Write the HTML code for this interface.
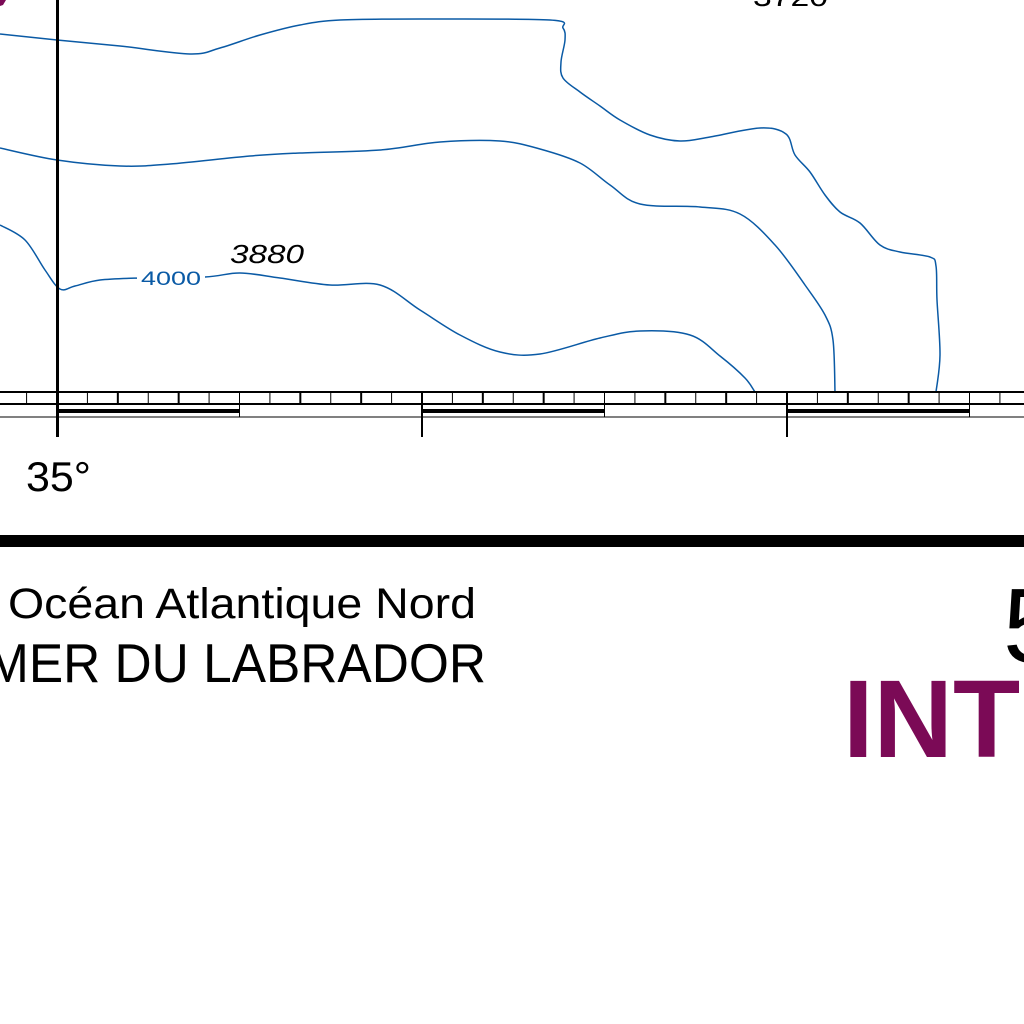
<!DOCTYPE html>
<html><head><meta charset="utf-8"><style>
html,body{margin:0;padding:0;background:#fff;width:1024px;height:1024px;overflow:hidden}
svg{display:block}
</style></head><body>
<svg id="chart" width="1024" height="1024" viewBox="0 0 1024 1024" xmlns="http://www.w3.org/2000/svg" font-family="'Liberation Sans', sans-serif">
<rect width="1024" height="1024" fill="#fff"/>
<path d="M0 0 L6 0 L3 5 L0 6 Z" fill="#7b0a56"/>
<g id="contours"></g>
<rect x="137" y="268" width="68" height="20" fill="#fff"/>
<text x="141" y="285" font-size="19" fill="#0a5aa5" textLength="60" lengthAdjust="spacingAndGlyphs">4000</text>
<text x="230" y="263" font-size="26" font-style="italic" fill="#000" textLength="74" lengthAdjust="spacingAndGlyphs">3880</text>
<text x="753" y="6" font-size="27" fill="#000" textLength="75" lengthAdjust="spacingAndGlyphs">3720</text>
<line x1="57.5" y1="0" x2="57.5" y2="437" stroke="#000" stroke-width="3"/>
<g id="scale"></g>
<text x="26" y="491" font-size="42" fill="#000" textLength="65" lengthAdjust="spacingAndGlyphs">35°</text>
<rect x="0" y="535" width="1024" height="12" fill="#000"/>
<text x="8" y="618" font-size="43" fill="#000" textLength="468" lengthAdjust="spacingAndGlyphs">Océan Atlantique Nord</text>
<text x="-14" y="682" font-size="55" fill="#000" textLength="500" lengthAdjust="spacingAndGlyphs">MER DU LABRADOR</text>
<text x="1003" y="662" font-size="106" fill="#000">5</text>
<text x="843" y="757" font-size="110" font-weight="bold" fill="#7b0a56">INT</text>
</svg>
<script>
const contour1 = [[0,34],[57,40],[120,46],[190,54],[220,48],[260,35],[300,25],[340,20],[420,19],[550,20],[563,28],[565,40],[561,62],[563,78],[580,92],[600,106],[620,120],[650,135],[680,141],[710,137],[760,128],[786,134],[795,155],[810,172],[825,195],[840,212],[860,223],[880,245],[900,252],[930,257],[936,266],[937,300],[940,355],[936,392]];
const contour2 = [[0,148],[57,160],[120,166],[170,164],[250,156],[300,153],[380,150],[440,142],[500,141],[540,149],[580,163],[610,185],[640,204],[700,207],[740,214],[775,245],[805,285],[825,315],[833,340],[835,392]];
const contour3 = [[0,225],[25,240],[45,270],[60,289],[75,286],[100,280],[140,278],[205,277],[240,273],[280,278],[330,285],[380,285],[420,310],[460,335],[500,352],[540,354],[600,338],[640,331],[690,335],[720,356],[745,378],[755,392]];
const meridians = [57, 422, 787];
const NS='http://www.w3.org/2000/svg';
function smooth(p){
  let d='M'+p[0][0]+' '+p[0][1];
  for(let i=0;i<p.length-1;i++){
    const p0=p[i-1]||p[i],p1=p[i],p2=p[i+1],p3=p[i+2]||p2;
    const c1=[p1[0]+(p2[0]-p0[0])/6,p1[1]+(p2[1]-p0[1])/6];
    const c2=[p2[0]-(p3[0]-p1[0])/6,p2[1]-(p3[1]-p1[1])/6];
    d+=' C'+c1[0].toFixed(1)+' '+c1[1].toFixed(1)+' '+c2[0].toFixed(1)+' '+c2[1].toFixed(1)+' '+p2[0]+' '+p2[1];
  }
  return d;
}
const cg=document.getElementById('contours');
[contour1,contour2,contour3].forEach((c,i)=>{
  const p=document.createElementNS(NS,'path');
  p.setAttribute('d',smooth(c));
  p.setAttribute('fill','none');p.setAttribute('stroke','#0a5aa5');p.setAttribute('stroke-width','1.5');
  
  
  cg.appendChild(p);
});
const sg=document.getElementById('scale');
function ln(x1,y1,x2,y2,w,name){
  const l=document.createElementNS(NS,'line');
  l.setAttribute('x1',x1);l.setAttribute('y1',y1);l.setAttribute('x2',x2);l.setAttribute('y2',y2);
  l.setAttribute('stroke','#000');l.setAttribute('stroke-width',w);
  
  
  sg.appendChild(l);
}
ln(0,392,1024,392,2,'scale-top-line');
ln(0,404,1024,404,2,'scale-mid-line');
ln(0,417,1024,417,1,'scale-bottom-line');
const step=(meridians[1]-meridians[0])/12;
for(let k=-2;k<=32;k++){
  const x=meridians[0]+k*step;
  if(x<0||x>1024) continue;
  const thick=((k%6)+6)%6===2||((k%6)+6)%6===4;
  ln(x,392,x,404,thick?2:1,'scale-tick');
}
meridians.forEach(m=>{
  ln(m,392,m,437,2,'meridian-tick');
  const r=document.createElementNS(NS,'rect');
  r.setAttribute('x',m);r.setAttribute('y',409);r.setAttribute('width',step*6);r.setAttribute('height',4);r.setAttribute('fill','#000');
  
  
  sg.appendChild(r);
  ln(m+step*6,404,m+step*6,417,1,'scale-segment-end');
});
</script>
</body></html>
